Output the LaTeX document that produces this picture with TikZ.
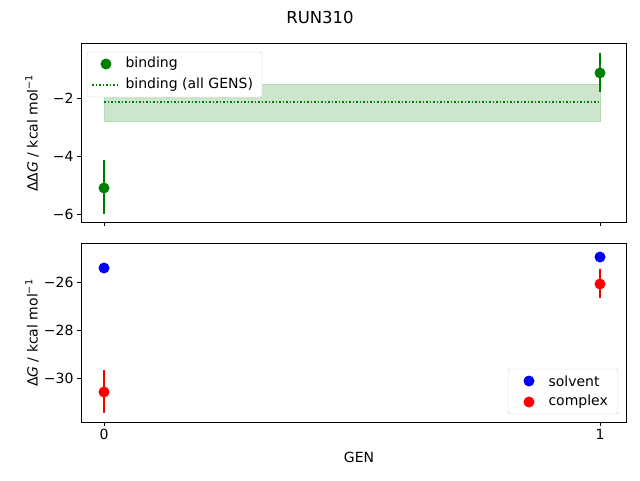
\documentclass[tikz,border=0pt]{standalone}
\usepackage{fontspec}
\setmainfont{DejaVu Sans}
\definecolor{mplgreen}{HTML}{008000}
\begin{document}
\begin{tikzpicture}[x=1pt,y=-1pt,font=\fontsize{14}{16}\selectfont,
  tick/.style={draw,line width=0.8pt},
  pt/.style={circle,inner sep=0pt,minimum size=11pt},
  errbar/.style={line width=1.5pt}]
\useasboundingbox (0,0) rectangle (640,480);
\node[font=\fontsize{16.5}{18}\selectfont] (title) at (320,17) {RUN310};

% Top axes
\fill[mplgreen!20,draw=mplgreen!30] (104,84) rectangle (600,121);
\draw[mplgreen,dotted,line width=1.5pt] (104,102) -- (600,102);
\draw[mplgreen,errbar] (104,160) -- (104,214);
\draw[mplgreen,errbar] (600,53) -- (600,92);
\node[pt,fill=mplgreen] (b0) at (104,188) {};
\node[pt,fill=mplgreen] (b1) at (600,73) {};
\draw[line width=0.8pt] (81,43) rectangle (626,222);
\foreach \v/\y in {2/98,4/156,6/214} {
  \draw[tick] (81,\y) -- (77,\y);
  \node[left] at (77,\y) {−\v};
}
\foreach \x in {104,600} \draw[tick] (\x,222) -- (\x,226);
\node[rotate=90] (ylabtop) at (32,133) {ΔΔ\textit{G} / kcal mol\textsuperscript{−1}};
% Legend top
\draw[black!20,fill=white,rounded corners=2pt] (87,52) rectangle (262,97);
\node[pt,fill=mplgreen] (lb) at (106,64) {};
\node[right] at (122,64) {binding};
\draw[mplgreen,dotted,line width=1.5pt] (92,85) -- (120,85);
\node[right] at (122,85) {binding (all GENS)};

% Bottom axes
\draw[red,errbar] (104,370) -- (104,413);
\draw[red,errbar] (600,269) -- (600,298);
\draw[blue,errbar] (104,264) -- (104,272);
\draw[blue,errbar] (600,252) -- (600,261);
\node[pt,fill=blue] (s0) at (104,268) {};
\node[pt,fill=red] (c0) at (104,392) {};
\node[pt,fill=blue] (s1) at (600,257) {};
\node[pt,fill=red] (c1) at (600,284) {};
\draw[line width=0.8pt] (81,243) rectangle (626,422);
\foreach \v/\y in {26/282,28/330,30/378} {
  \draw[tick] (81,\y) -- (77,\y);
  \node[left] at (77,\y) {−\v};
}
\foreach \x/\l in {104/0,600/1} {
  \draw[tick] (\x,422) -- (\x,426);
  \node[below] at (\x,426) {\l};
}
\node (xlab) at (359,457) {GEN};
\node[rotate=90] (ylabbot) at (32,333) {Δ\textit{G} / kcal mol\textsuperscript{−1}};
% Legend bottom
\draw[black!20,fill=white,rounded corners=2pt] (508,369) rectangle (618,414);
\node[pt,fill=blue] (ls) at (529,381) {};
\node[right] at (545,381) {solvent};
\node[pt,fill=red] (lc) at (529,402) {};
\node[right] at (545,402) {complex};
\end{tikzpicture}
\end{document}
